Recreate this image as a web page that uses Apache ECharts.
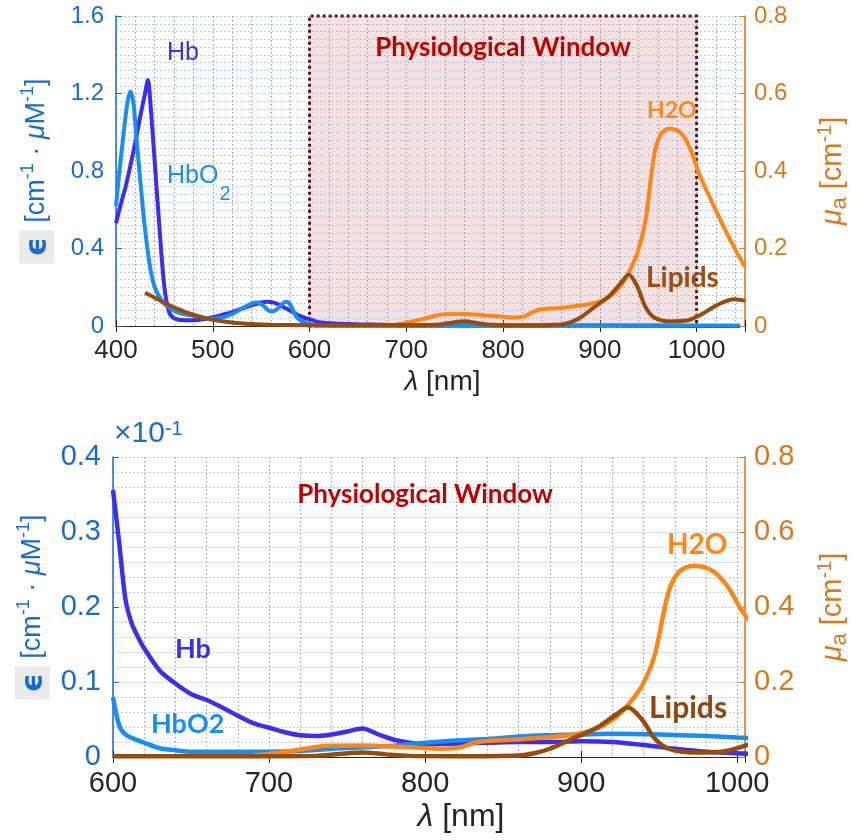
<!DOCTYPE html>
<html><head><meta charset="utf-8">
<script src="https://cdn.jsdelivr.net/npm/echarts@6/dist/echarts.min.js"></script>
<style>html,body{margin:0;padding:0;background:#fff}#c{width:859px;height:840px}</style>
</head><body><div id="c"></div>
<script>
// ---- data (wavelength in nm) ----
// Hemoglobin molar extinction, cm^-1 · µM^-1
const hbWl = [400,405,410,415,420,425,430,433,436,440,445,450,455,460,470,480,490,500,510,520,530,540,546,550,556,560,566,570,576,580,586,590,596,600,604,608,612,616,620,630,640,650,660,670,680,690,700,710,720,730,740,750,760,770,780,790,800,820,840,860,880,900,920,940,960,980,1000,1020,1045];
const hbVal = [0.53,0.63,0.72,0.83,0.95,1.08,1.20,1.27,1.12,0.85,0.50,0.20,0.07,0.04,0.03,0.03,0.035,0.045,0.058,0.072,0.09,0.107,0.115,0.121,0.125,0.124,0.116,0.106,0.09,0.08,0.062,0.052,0.040,0.0356,0.0285,0.0210,0.0178,0.0160,0.0145,0.0115,0.0098,0.0084,0.0076,0.0066,0.0055,0.0045,0.0039,0.0033,0.0029,0.0028,0.0030,0.0034,0.0038,0.0030,0.0023,0.0019,0.0017,0.0018,0.0019,0.0020,0.0020,0.0021,0.0020,0.0016,0.0011,0.0007,0.0005,0.0003,0.0002];
const hbo2Wl = [400,404,408,412,415,418,421,426,430,435,440,448,455,462,470,480,490,500,510,520,530,540,546,552,560,566,572,576,580,586,590,596,600,604,608,615,620,630,640,650,670,700,720,740,760,780,800,820,840,866,880,900,920,950,980,1000,1020,1045];
const hbo2Val = [0.62,0.82,1.0,1.16,1.21,1.15,0.98,0.70,0.50,0.31,0.20,0.125,0.095,0.074,0.062,0.053,0.042,0.038,0.045,0.062,0.09,0.115,0.122,0.105,0.075,0.085,0.115,0.125,0.110,0.05,0.03,0.017,0.0080,0.0042,0.0030,0.0023,0.0019,0.00116,0.0009,0.0007,0.0007,0.0007,0.0008,0.0011,0.0013,0.0015,0.0019,0.0022,0.0024,0.0028,0.0029,0.0030,0.0031,0.0030,0.0028,0.0026,0.0024,0.0022];
// Absorption coefficient, cm^-1
const h2oWl = [690,700,712,726,737,760,780,795,810,822,832,840,864,892,909,922,930,939,947,956,963,972,984,994,1003,1015,1028,1042,1050];
const h2oVal = [0.004,0.008,0.015,0.024,0.030,0.031,0.028,0.025,0.022,0.025,0.038,0.043,0.048,0.058,0.074,0.105,0.139,0.19,0.27,0.44,0.495,0.51,0.497,0.454,0.39,0.325,0.256,0.188,0.153];
const lipWl = [430,440,450,460,470,480,490,500,520,540,560,600,700,730,745,760,775,790,820,860,870,880,894,910,922,930,939,947,956,973,990,1005,1021,1039,1050];
const lipVal = [0.086,0.073,0.060,0.048,0.038,0.029,0.022,0.016,0.009,0.005,0.003,0.002,0.002,0.003,0.008,0.012,0.007,0.003,0.002,0.004,0.010,0.022,0.048,0.078,0.112,0.132,0.100,0.050,0.022,0.012,0.014,0.030,0.054,0.069,0.065];
const windowRange = [600, 1000];
const topX = [400, 1050], botX = [600, 1005];
const topLeftY = [0, 1.6], topRightY = [0, 0.8];
const botLeftY = [0, 0.4], botRightY = [0, 0.8];
const botScale = 10; // bottom left axis is shown in units of 10^-1

const C_HB = '#3b2ef0', C_HBO2 = '#1a8cf5', C_H2O = '#ff8516', C_LIP = '#974c0c';
const C_LEFT = '#1a6bd0', C_RIGHT = '#d6791f', C_TXT = '#262626';
const SANS = 'Liberation Sans, Arial, sans-serif';
const CAL = 'Lato, Carlito, sans-serif';

// pairs [wavelength, value]; optional unit factor and lower wavelength bound
const zip = (w, v, k, from) => w.map((x, i) => [x, v[i] * (k || 1)]).filter(p => from == null || p[0] >= from);

function xAxes(gi, range, nameGap, nameSize, labelSize, namePad) {
  return [
    { gridIndex: gi, type: 'value', min: range[0], max: range[1], interval: 100, position: 'bottom',
      axisLine: { lineStyle: { color: C_TXT, width: 1 } },
      axisTick: { inside: true, length: 6, lineStyle: { color: C_TXT } },
      axisLabel: { color: C_TXT, fontSize: labelSize, fontFamily: SANS, margin: 12,
        formatter: v => (v % 100 === 0 ? String(v) : '') },
      splitLine: { show: false },
      name: '{i|λ} [nm]', nameLocation: 'middle', nameGap: nameGap,
      nameTextStyle: { color: C_TXT, fontSize: nameSize, fontFamily: SANS, padding: namePad,
        rich: { i: { fontStyle: 'italic', fontSize: nameSize, fontFamily: SANS, color: C_TXT } } } },
    { gridIndex: gi, type: 'value', min: range[0], max: range[1], interval: 100, position: 'top',
      axisLine: { lineStyle: { color: C_TXT, width: 1 } },
      axisTick: { inside: true, length: 6, lineStyle: { color: C_TXT } },
      axisLabel: { show: false }, splitLine: { show: false } },
    { gridIndex: gi, type: 'value', min: range[0], max: range[1], interval: 20, position: 'bottom',
      axisLine: { show: false }, axisTick: { show: false }, axisLabel: { show: false },
      splitLine: { show: true, lineStyle: { color: '#9a9a9a', type: [1.5, 2.5], width: 1 } } }
  ];
}

function yAxes(gi, lRange, lInt, lMinor, rRange, rInt, labelSize, lGap, rGap, nameSize, rNameSize) {
  const supL = { fontSize: Math.round(nameSize * 0.68), verticalAlign: 'top', color: C_LEFT, fontFamily: SANS };
  const supR = { fontSize: Math.round(rNameSize * 0.68), verticalAlign: 'top', color: C_RIGHT, fontFamily: SANS };
  return [
    { gridIndex: gi, type: 'value', position: 'left', min: lRange[0], max: lRange[1], interval: lInt,
      axisLine: { show: true, lineStyle: { color: C_LEFT, width: 1.5 } },
      axisTick: { show: true, inside: true, length: 6, lineStyle: { color: C_LEFT } },
      axisLabel: { color: C_LEFT, fontSize: labelSize, fontFamily: SANS, margin: 12 },
      splitLine: { show: true, lineStyle: { color: '#9cc0ea', type: [1.5, 2.5], width: 1 } },
      minorTick: { show: false, splitNumber: lMinor },
      minorSplitLine: { show: true, lineStyle: { color: '#9cc0ea', type: [1.5, 2.5], width: 1 } },
      name: '{e|ϵ} [cm{s|-1} · {i|μ}M{s|-1}]', nameLocation: 'middle', nameRotate: 90, nameGap: lGap,
      nameTextStyle: { color: C_LEFT, fontSize: nameSize, fontFamily: SANS,
        rich: {
          e: { color: C_LEFT, fontSize: nameSize + 3, fontWeight: 'bold', fontFamily: 'DejaVu Sans', backgroundColor: '#ebebeb', padding: [4, 7, 1, 7] },
          s: supL,
          i: { fontStyle: 'italic', color: C_LEFT, fontSize: nameSize, fontFamily: SANS }
        } } },
    { gridIndex: gi, type: 'value', position: 'right', min: rRange[0], max: rRange[1], interval: rInt,
      axisLine: { show: true, lineStyle: { color: C_RIGHT, width: 1.5 } },
      axisTick: { show: true, inside: true, length: 6, lineStyle: { color: C_RIGHT } },
      axisLabel: { color: C_RIGHT, fontSize: labelSize, fontFamily: SANS, margin: 9 },
      splitLine: { show: false },
      name: '{i|μ}{a|a} [cm{s|-1}]', nameLocation: 'middle', nameRotate: 90, nameGap: rGap,
      nameTextStyle: { color: C_RIGHT, fontSize: rNameSize, fontFamily: SANS,
        rich: {
          i: { fontStyle: 'italic', color: C_RIGHT, fontSize: rNameSize, fontFamily: SANS },
          a: { fontSize: Math.round(rNameSize * 0.75), verticalAlign: 'bottom', color: C_RIGHT, fontFamily: SANS, padding: [14, 0, 0, 0] },
          s: supR
        } } }
  ];
}

function line(name, xi, yi, data, color, w, z) {
  return { name, type: 'line', xAxisIndex: xi, yAxisIndex: yi, data, symbol: 'none',
    smooth: 0.3, lineStyle: { color, width: w }, itemStyle: { color }, silent: true, z: z || 3 };
}

const chart = echarts.init(document.getElementById('c'), null, { renderer: 'canvas' });

const series = [
  Object.assign(line('H2O', 0, 1, zip(h2oWl, h2oVal), C_H2O, 4, 2), {
    markArea: { silent: true,
      itemStyle: { color: 'rgba(205,120,120,0.22)', borderColor: '#5a1818', borderWidth: 3, borderType: 'dotted' },
      label: { show: true, position: 'insideTop', distance: 20, color: '#c00000', fontSize: 26, fontWeight: 'bold', fontFamily: CAL },
      data: [[{ xAxis: windowRange[0], name: 'Physiological Window' }, { xAxis: windowRange[1] }]] } }),
  line('Hb', 0, 0, zip(hbWl, hbVal), C_HB, 4),
  line('HbO2', 0, 0, zip(hbo2Wl, hbo2Val), C_HBO2, 4),
  line('Lipids', 0, 1, zip(lipWl, lipVal), C_LIP, 4, 4),
  line('Hb', 3, 2, zip(hbWl, hbVal, botScale, botX[0]), C_HB, 4.5),
  line('HbO2', 3, 2, zip(hbo2Wl, hbo2Val, botScale, botX[0]), C_HBO2, 4.5),
  line('H2O', 3, 3, zip(h2oWl, h2oVal, 1, botX[0]), C_H2O, 4.5),
  line('Lipids', 3, 3, zip(lipWl, lipVal, 1, botX[0]), C_LIP, 4.5, 4)
];

function txt(x, y, text, color, size, weight, family, rich) {
  return { type: 'text', x, y, silent: true, z: 50,
    style: { text, fill: color, fontSize: size, fontWeight: weight || 'normal', fontFamily: family || SANS,
      verticalAlign: 'top', align: 'left', rich } };
}

const option = {
  animation: false,
  backgroundColor: '#ffffff',
  grid: [
    { left: 116, top: 16, width: 632, height: 310, containLabel: false },
    { left: 113, top: 457, width: 635, height: 300, containLabel: false }
  ],
  xAxis: [].concat(xAxes(0, topX, 42, 28, 26, [0, 0, 0, 24]), xAxes(1, botX, 44, 32, 29, [0, 0, 0, 64])),
  yAxis: [].concat(
    yAxes(0, topLeftY, 0.4, 10, topRightY, 0.2, 24, 62, 70, 27, 29),
    yAxes(1, botLeftY, 0.1, 5, botRightY, 0.2, 29, 58, 70, 27, 29)),
  series,
  graphic: [
    txt(167, 41, 'Hb', C_HB, 25),
    txt(167, 164, '{n|HbO}{s|2}', C_HBO2, 25, 'normal', SANS, {
      n: { fontSize: 25, fill: C_HBO2, fontFamily: SANS, verticalAlign: 'top' },
      s: { fontSize: 20, fill: C_HBO2, fontFamily: SANS, padding: [20, 0, 0, 1] } }),
    txt(647, 99, 'H2O', '#ff8c1a', 23, 'bold', CAL),
    txt(646, 264, 'Lipids', '#9c4e12', 28, 'bold', CAL),
    txt(175, 636, 'Hb', C_HB, 27, 'bold', CAL),
    txt(151, 711, 'HbO2', C_HBO2, 27, 'bold', CAL),
    txt(667, 531, 'H2O', C_H2O, 28, 'bold', CAL),
    txt(649, 693, 'Lipids', '#8f460c', 30, 'bold', CAL),
    { type: 'text', x: 425, y: 482, silent: true, z: 50,
      style: { text: 'Physiological Window', fill: '#c00000', fontSize: 26, fontWeight: 'bold', fontFamily: CAL, align: 'center', verticalAlign: 'top' } },
    txt(114, 419, '×10{s|-1}', C_LEFT, 30, 'normal', SANS, {
      s: { fontSize: 20, fill: C_LEFT, fontFamily: SANS, verticalAlign: 'top' } })
  ]
};
chart.setOption(option);
</script></body></html>
